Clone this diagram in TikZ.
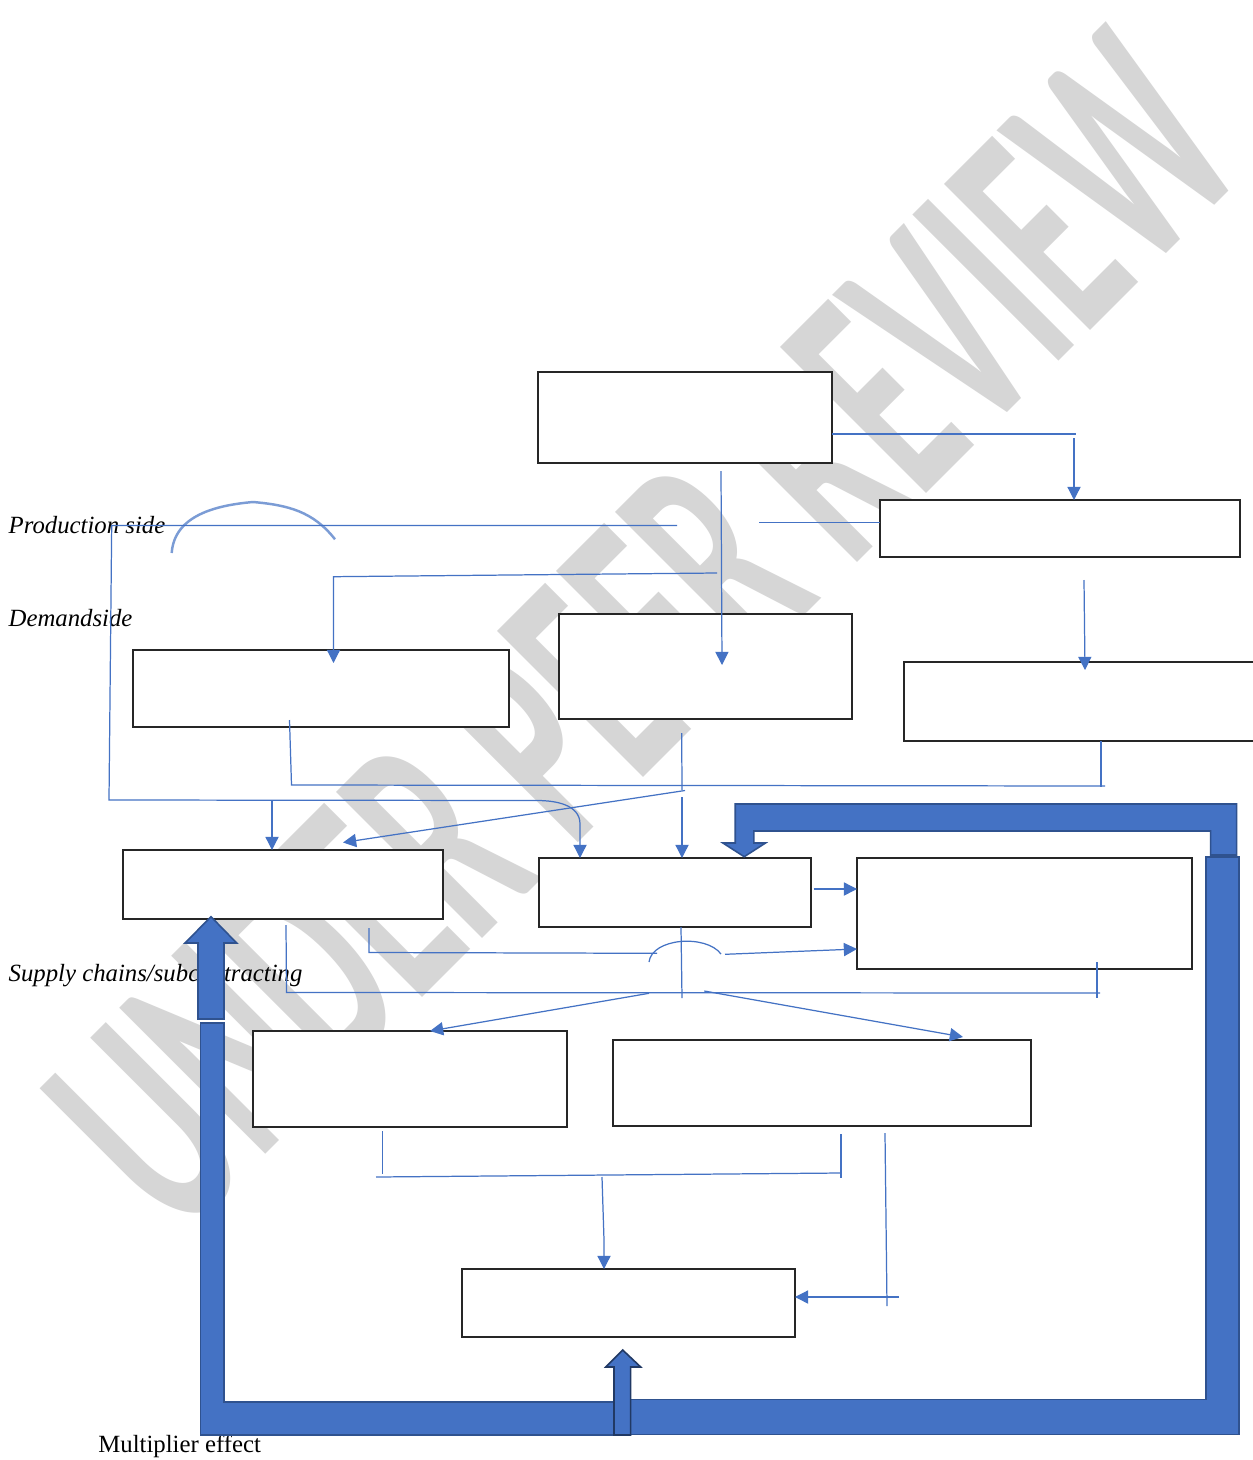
\documentclass[tikz,border=0pt]{standalone}
\usepackage{fontspec}
\setmainfont{Liberation Serif}
\newfontfamily\wmfont{Carlito}
\usetikzlibrary{arrows.meta}
\definecolor{lnblue}{HTML}{4472C4}
\definecolor{bandblue}{HTML}{4472C4}
\definecolor{banddark}{HTML}{2F528F}
\begin{document}
\begin{tikzpicture}[x=0.02cm,y=-0.02cm,
  box/.style={draw=black!85,line width=0.8pt,fill=white,inner sep=0pt,outer sep=0pt},
  conn/.style={draw=lnblue,line width=0.7pt},
  arr/.style={conn,-{Triangle[length=7.5pt,width=7.5pt]}},
  band/.style={fill=bandblue,draw=banddark,line width=0.9pt,line join=miter},
  lbl/.style={font=\fontsize{14.1}{16}\selectfont\itshape,anchor=base west,inner sep=0pt}]
\useasboundingbox[fill=white] (0,0) rectangle (1252,1460);
% watermark
\node[rotate=45,text=black!16,inner sep=0pt,font=\wmfont\bfseries\fontsize{98}{98}\selectfont] (wm) at (644,632) {\scalebox{1}[1.85]{UNDER PEER REVIEW}};
% labels
\node[lbl] (tprod) at (8.3,533.3) {Production side};
\node[lbl] (tdem) at (8.3,626.7) {Demandside};
\node[lbl] (tsup) at (8.3,981) {Supply chains/subcontracting};
\node[lbl,font=\fontsize{14.1}{16}\selectfont\upshape] (tmul) at (98,1452) {Multiplier effect};
% boxes
\node[box,minimum width=5.88cm,minimum height=1.82cm] (b1) at (685,417.5) {};
\node[box,minimum width=7.2cm,minimum height=1.14cm] (b2) at (1060,528.5) {};
\node[box,minimum width=7.52cm,minimum height=1.54cm] (b3) at (321,688.5) {};
\node[box,minimum width=5.86cm,minimum height=2.1cm] (b4) at (705.5,666.5) {};
\node[box,minimum width=7.16cm,minimum height=1.58cm] (b5) at (1083,701.5) {};
\node[box,minimum width=6.4cm,minimum height=1.38cm] (b6) at (283,884.5) {};
\node[box,minimum width=5.44cm,minimum height=1.38cm] (b7) at (675,892.5) {};
\node[box,minimum width=6.7cm,minimum height=2.22cm] (b8) at (1024.5,913.5) {};
\node[box,minimum width=6.28cm,minimum height=1.92cm] (b9) at (410,1079) {};
\node[box,minimum width=8.36cm,minimum height=1.72cm] (b10) at (822,1083) {};
\node[box,minimum width=6.66cm,minimum height=1.36cm] (b11) at (628.5,1303) {};
% connectors
\coordinate (c1) at (1076,434);
\draw[conn] (b1.east |- c1) -- (c1);
\coordinate (c2) at (1074,438);
\draw[arr] (c2) -- (c2 |- b2.north);
\coordinate (c3) at (721,471);
\coordinate (c3e) at (722,665);
\draw[arr] (c3) -- (c3e);
% production side line
\coordinate (ps1) at (677,525.5);
\coordinate (ps2) at (111.7,525.5);
\coordinate (ps3) at (109,800);
\coordinate (ps4) at (537,800.5);
\coordinate (ps5) at (580,824);
\draw[arr] (ps1) -- (ps2) -- (ps3) -- (ps4) to[out=0,in=90] (ps5) -- (ps5 |- b7.north);
\coordinate (ps6) at (272,800);
\draw[arr] (ps6) -- (ps6 |- b6.north);
\draw[lnblue,line width=1.4pt,opacity=0.7] (171.7,553) to[out=86,in=185] (253,502) to[out=-5,in=128] (335,539.3);
\coordinate (q1) at (759,522.5);
\draw[conn] (q1) -- (q1 -| b2.west);
% demand line
\coordinate (d1) at (717,573);
\coordinate (d2) at (333.5,576.7);
\coordinate (d3) at (333.5,663);
\draw[arr] (d1) -- (d2) -- (d3);
% B2 -> B5
\coordinate (e1) at (1084,580);
\coordinate (e2) at (1085,670);
\draw[arr] (e1) -- (e2);
% collector line
\coordinate (f1) at (289.5,720);
\coordinate (f2) at (291.5,785);
\coordinate (f3) at (1105,786);
\draw[conn] (f1) -- (f2) -- (f3);
\coordinate (f4) at (1101,787);
\draw[conn] (f4 |- b5.south) -- (f4);
% B4 down
\coordinate (g1) at (681.7,733);
\coordinate (g2) at (682,790);
\draw[conn] (g1) -- (g2);
\coordinate (g3) at (685,790.5);
\coordinate (g4) at (343,842.5);
\draw[arr] (g3) -- (g4);
\coordinate (g5) at (682,797);
\draw[arr] (g5) -- (g5 |- b7.north);
% B7 -> B8
\coordinate (h1) at (813.5,889);
\draw[arr] (h1) -- (h1 -| b8.west);
% B6 -> B8 with hop
\coordinate (k1) at (369,928);
\coordinate (k2) at (369,952.5);
\coordinate (k3) at (657,953.3);
\draw[conn] (k1) -- (k2) -- (k3);
\draw[conn] (649,962) .. controls (652,938) and (706,934) .. (721,954);
\coordinate (k4) at (725,954.3);
\coordinate (k5) at (857,949);
\draw[arr] (k4) -- (k5);
% B7 down and supply line
\coordinate (m1) at (681,927);
\coordinate (m2) at (682,998);
\draw[conn] (m1) -- (m2);
\coordinate (n1) at (286,925);
\coordinate (n2) at (286.5,992.5);
\coordinate (n3) at (1100,993);
\draw[conn] (n1) -- (n2) -- (n3);
\coordinate (n4) at (1097,962);
\coordinate (n5) at (1097,998);
\draw[conn] (n4) -- (n5);
\coordinate (n6) at (649,993.3);
\coordinate (n7) at (430,1031);
\draw[arr] (n6) -- (n7);
\coordinate (n8) at (704.3,991);
\coordinate (n9) at (963,1037);
\draw[arr] (n8) -- (n9);
% bottom collector
\coordinate (r1) at (382.5,1131);
\coordinate (r2) at (382.5,1174);
\draw[conn] (r1) -- (r2);
\coordinate (r3) at (376,1177);
\coordinate (r4) at (841,1173);
\draw[conn] (r3) -- (r4);
\coordinate (r5) at (841,1134);
\coordinate (r6) at (841,1178);
\draw[conn] (r5) -- (r6);
\coordinate (r7) at (602,1177);
\coordinate (r8) at (604,1240);
\draw[arr] (r7) -- (r8) -- (r8 |- b11.north);
\coordinate (s1) at (885,1133);
\coordinate (s2) at (887,1306);
\draw[conn] (s1) -- (s2);
\coordinate (s3) at (899,1297);
\draw[arr] (s3) -- (s3 -| b11.east);
% thick bands (multiplier loop)
\draw[band] (200.7,1023) -- (224,1023) -- (224,1401.7) -- (616,1401.7) -- (616,1435) -- (200.7,1435) -- cycle;
\draw[band] (630,1399.3) -- (1206,1399.3) -- (1206,856.7) -- (1238.7,856.7) -- (1238.7,1434.5) -- (630,1434.5) -- cycle;
\draw[band] (1236.6,855) -- (1236.6,804) -- (735.2,804) -- (735.2,843) -- (722.9,843) -- (744.2,856.7) -- (765.5,843) -- (753.9,843) -- (753.9,831) -- (1210.6,831) -- (1210.6,855) -- cycle;
\draw[band,draw=banddark!70!black] (614,1435) -- (614,1367) -- (605.7,1367) -- (622.7,1350) -- (640.7,1367) -- (630.7,1367) -- (630.7,1435) -- cycle;
\draw[band] (198,1019) -- (198,943) -- (185,943) -- (211,916.7) -- (236.7,943) -- (224,943) -- (224,1019) -- cycle;
\end{tikzpicture}
\end{document}
